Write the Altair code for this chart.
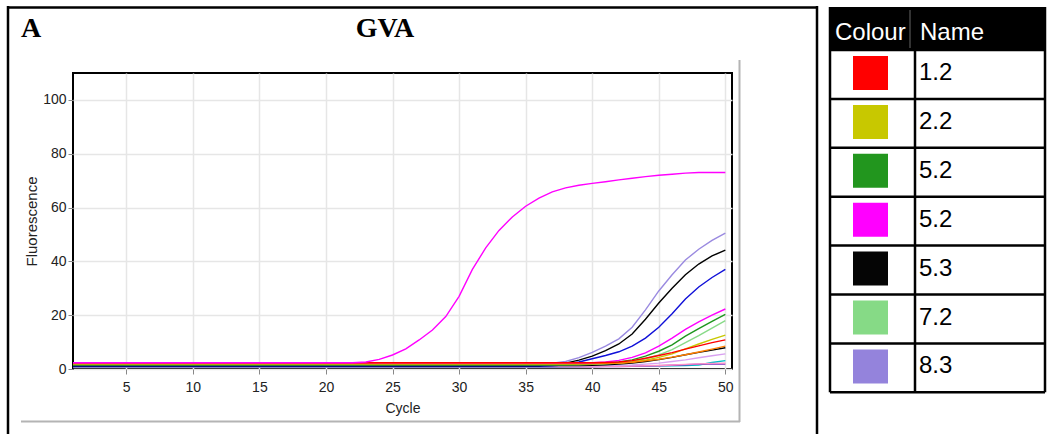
import altair as alt
import pandas as pd

# ---------------- data ----------------
cycles_late = [1, 36, 37, 38, 39, 40, 41, 42, 43, 44, 45, 46, 47, 48, 49, 50]
cycles_early = [1, 22, 23, 24, 25, 26, 27, 28, 29, 30, 31, 32, 33, 34, 35, 36,
                37, 38, 39, 40, 41, 42, 43, 44, 45, 46, 47, 48, 49, 50]

magenta_a = [2.3, 2.3, 2.6, 3.6, 5.2, 7.5, 10.8, 14.5, 19.5, 27.0, 37.0, 45.0, 51.5, 56.5, 60.5,
             63.5, 65.8, 67.3, 68.3, 69.0, 69.6, 70.3, 70.9, 71.5, 72.0, 72.4, 72.8, 73.0, 73.0, 73.0]

lavender = [1.9, 1.9, 2.2, 2.8, 4.2, 6.2, 8.5, 11.2, 15.5, 22.0, 29.0, 35.0, 40.5, 44.5, 47.8, 50.5]
black_a = [1.3, 1.3, 1.6, 2.2, 3.3, 4.8, 6.8, 9.3, 13.0, 18.5, 24.5, 30.0, 35.0, 39.0, 42.0, 44.2]
blue = [1.0, 1.0, 1.2, 1.6, 2.6, 3.8, 5.0, 6.4, 8.5, 11.5, 15.5, 20.5, 26.0, 30.5, 34.0, 37.0]
magenta_b = [2.3, 2.3, 2.3, 2.3, 2.3, 2.3, 2.6, 3.2, 4.3, 6.0, 8.5, 11.5, 14.7, 17.5, 20.0, 22.3]
green = [1.6, 1.6, 1.6, 1.6, 1.7, 1.9, 2.2, 2.6, 3.4, 4.8, 6.6, 9.0, 12.2, 15.0, 17.7, 20.3]
lightgreen = [1.6, 1.6, 1.6, 1.6, 1.6, 1.7, 1.9, 2.2, 2.8, 3.8, 5.2, 7.2, 9.8, 12.4, 15.2, 18.0]
olive = [1.8, 1.8, 1.8, 1.8, 1.8, 1.9, 2.0, 2.2, 2.6, 3.3, 4.3, 5.6, 7.5, 9.3, 11.0, 12.6]
red = [2.3, 2.3, 2.3, 2.3, 2.3, 2.3, 2.4, 2.6, 3.1, 4.0, 5.0, 6.1, 7.4, 8.6, 9.8, 10.8]
orange = [2.0, 2.0, 2.0, 2.0, 2.0, 2.0, 2.1, 2.2, 2.5, 3.0, 3.6, 4.4, 5.3, 6.3, 7.4, 8.5]
black_b = [1.3, 1.3, 1.3, 1.3, 1.3, 1.4, 1.6, 1.8, 2.2, 2.8, 3.5, 4.3, 5.3, 6.2, 7.0, 7.9]
plum = [1.2, 1.2, 1.2, 1.2, 1.2, 1.2, 1.3, 1.4, 1.5, 1.8, 2.2, 2.8, 3.4, 4.2, 4.9, 5.6]
cyan = [0.7, 0.7, 0.7, 0.8, 0.9, 1.0, 1.0, 1.0, 1.1, 1.1, 1.2, 1.2, 1.3, 1.5, 2.4, 3.1]
pink = [0.9, 0.9, 0.9, 0.9, 0.9, 0.9, 1.0, 1.0, 1.1, 1.2, 1.3, 1.5, 1.7, 1.9, 2.1, 2.2]
purple = [0.8, 0.8, 0.8, 0.8, 0.8, 0.8, 0.9, 0.9, 1.0, 1.1, 1.2, 1.4, 1.6, 1.8, 1.8, 1.8]

late_series = {
    "cyan": cyan, "purple": purple, "pink": pink, "plum": plum, "blue": blue,
    "lavender": lavender, "black_a": black_a, "black_b": black_b,
    "lightgreen": lightgreen, "green": green, "olive": olive, "orange": orange,
    "magenta_b": magenta_b, "red": red,
}
series_ids = ["cyan", "purple", "pink", "plum", "blue", "lavender", "black_a", "black_b",
              "lightgreen", "green", "olive", "orange", "magenta_b", "red", "magenta_a"]
series_colors = ["#00C0C8", "#8030C0", "#FF90C8", "#D8A0F0", "#1010D8", "#9A8AE0", "#000000",
                 "#000000", "#88DA88", "#1E961E", "#C8C800", "#FF8000", "#FF00FF", "#FF0000",
                 "#FF00FF"]

legend_names = ["1.2", "2.2", "5.2", "5.2", "5.3", "7.2", "8.3"]
legend_colors = ["#FF0000", "#C8C800", "#22961E", "#FF00FF", "#050505", "#86DA86", "#9483DC"]

x_ticks = [5, 10, 15, 20, 25, 30, 35, 40, 45, 50]
y_ticks = [0, 20, 40, 60, 80, 100]

# ---------------- layout ----------------
W, H = 1047, 434
OX, OY = 73, 73          # plot origin (absolute px)
PW, PH = 659, 296        # plot size


def px(x):
    return x - OX


def py(y):
    return y - OY


rows = []
for sid, vals in late_series.items():
    for c, v in zip(cycles_late, vals):
        rows.append({"series": sid, "cycle": c, "value": v})
for c, v in zip(cycles_early, magenta_a):
    rows.append({"series": "magenta_a", "cycle": c, "value": v})
df = pd.DataFrame(rows)

one = pd.DataFrame({"k": [0]})

lines = alt.Chart(df).mark_line(strokeWidth=1.4, clip=True).encode(
    x=alt.X("cycle:Q", scale=alt.Scale(domain=[1, 50.5], nice=False, zero=False),
            axis=alt.Axis(values=x_ticks, title="Cycle", grid=True,
                          labelPadding=6, titlePadding=7)),
    y=alt.Y("value:Q", scale=alt.Scale(domain=[0, 110], nice=False),
            axis=alt.Axis(values=y_ticks, title="Fluorescence", grid=True,
                          titleFontSize=15, titlePadding=3)),
    color=alt.Color("series:N", scale=alt.Scale(domain=series_ids, range=series_colors),
                    legend=None),
    order=alt.Order("cycle:Q"),
)


def hrule(x1, x2, y, color, w):
    return alt.Chart(one).mark_rule(color=color, strokeWidth=w).encode(
        x=alt.value(px(x1)), x2=alt.value(px(x2)), y=alt.value(py(y)))


def vrule(x, y1, y2, color, w):
    return alt.Chart(one).mark_rule(color=color, strokeWidth=w).encode(
        x=alt.value(px(x)), y=alt.value(py(y1)), y2=alt.value(py(y2)))


def label(text, x, y, size, color="black", weight="normal", font="Liberation Sans", align="left"):
    return alt.Chart(one).mark_text(text=text, fontSize=size, fontWeight=weight, font=font,
                                    color=color, align=align, baseline="alphabetic").encode(
        x=alt.value(px(x)), y=alt.value(py(y)))


deco = [
    vrule(8, 6, 434, "black", 2.5),
    hrule(7, 818, 7.5, "black", 2.5),
    vrule(817, 6, 434, "black", 2.5),
    vrule(739.5, 60, 422, "#b4b4b4", 2),
    hrule(21, 740, 421.5, "#b4b4b4", 2),
    label("A", 21, 37, 28, weight="bold", font="Liberation Serif"),
    label("GVA", 385, 37, 28, weight="bold", font="Liberation Serif", align="center"),
]

# legend table
T_LEFT, T_MID, T_RIGHT = 830, 915, 1045
T_TOP, HEAD_BOTTOM, ROW_H = 7, 50, 48.9
n = len(legend_names)
leg = pd.DataFrame({"name": legend_names, "hex": legend_colors})
leg["top"] = [HEAD_BOTTOM + i * ROW_H for i in range(n)]
leg["sx0"] = px(853)
leg["sx1"] = px(888)
leg["sy0"] = leg["top"] + 6 - OY
leg["sy1"] = leg["top"] + 40 - OY
leg["tx"] = px(919)
leg["ty"] = leg["top"] + 30 - OY
leg["ly"] = leg["top"] + ROW_H - OY
T_BOTTOM = HEAD_BOTTOM + n * ROW_H

header = alt.Chart(one).mark_rect(color="black").encode(
    x=alt.value(px(T_LEFT - 1)), x2=alt.value(px(T_RIGHT + 1)),
    y=alt.value(py(T_TOP)), y2=alt.value(py(HEAD_BOTTOM)))
swatches = alt.Chart(leg).mark_rect().encode(
    x=alt.X("sx0:Q", scale=None, axis=None), x2="sx1:Q",
    y=alt.Y("sy0:Q", scale=None, axis=None), y2="sy1:Q",
    fill=alt.Fill("hex:N", scale=None))
names = alt.Chart(leg).mark_text(fontSize=24, font="Liberation Sans", align="left",
                                 baseline="alphabetic", color="black").encode(
    x=alt.X("tx:Q", scale=None, axis=None), y=alt.Y("ty:Q", scale=None, axis=None),
    text="name:N")
row_lines = alt.Chart(leg).mark_rule(color="black", strokeWidth=2.5).encode(
    x=alt.value(px(T_LEFT)), x2=alt.value(px(T_RIGHT)),
    y=alt.Y("ly:Q", scale=None, axis=None))

table = [
    header, swatches, names, row_lines,
    hrule(T_LEFT, T_RIGHT, HEAD_BOTTOM, "black", 2.5),
    vrule(T_LEFT, T_TOP, T_BOTTOM, "black", 2.5),
    vrule(T_MID, HEAD_BOTTOM, T_BOTTOM, "black", 2.5),
    vrule(T_RIGHT, T_TOP, T_BOTTOM, "black", 2.5),
    vrule(910, 10, 48, "#666666", 1),
    label("Colour", 835, 39.5, 24, color="white"),
    label("Name", 920, 39.5, 24, color="white"),
]

chart = alt.layer(lines, *deco, *table).properties(
    width=PW, height=PH,
    autosize=alt.AutoSizeParams(type="none"),
    padding={"left": OX, "top": OY, "right": W - OX - PW, "bottom": H - OY - PH},
    background="white",
).configure_view(
    stroke="black", strokeWidth=2
).configure_axis(
    domain=False, tickColor="#888888", tickSize=5, tickWidth=1,
    gridColor="#e6e6e6", gridWidth=1.5,
    labelFont="Liberation Sans", labelFontSize=14, labelColor="#222222", labelPadding=2,
    titleFont="Liberation Sans", titleFontSize=14, titleFontWeight="normal", titleColor="#222222",
)

chart.save("out.html", embed_options={"renderer": "svg", "actions": False})
